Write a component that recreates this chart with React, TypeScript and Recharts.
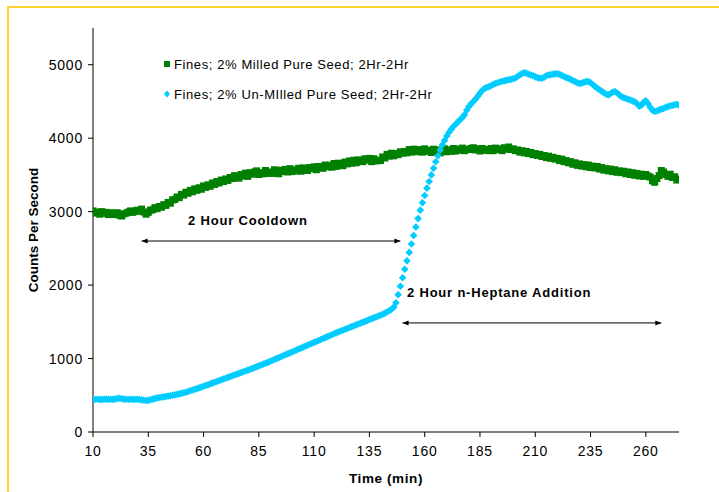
import React from 'react';
import {
  ScatterChart,
  Scatter,
  XAxis,
  YAxis,
  Legend,
  ReferenceLine,
  ReferenceDot,
} from 'recharts';

// one reading per minute, starting at t = 10 min
const START_MIN = 10;

const milledCps = [
  3010, 2980, 2995, 2965, 3000, 2975, 2990, 2960, 2985, 2970,
  2960, 2985, 2950, 2940, 2970, 2980, 2995, 3010, 2990, 3005,
  3020, 3005, 3035, 2995, 2965, 2990, 3020, 3025, 3055, 3040,
  3070, 3060, 3095, 3085, 3125, 3115, 3160, 3165, 3200, 3190,
  3235, 3225, 3265, 3250, 3290, 3270, 3310, 3290, 3325, 3305,
  3350, 3330, 3365, 3345, 3390, 3370, 3410, 3390, 3430, 3410,
  3445, 3425, 3465, 3450, 3490, 3465, 3455, 3505, 3485, 3525,
  3480, 3530, 3510, 3540, 3555, 3505, 3530, 3515, 3560, 3520,
  3540, 3520, 3570, 3530, 3515, 3565, 3545, 3575, 3540, 3585,
  3545, 3570, 3555, 3590, 3550, 3595, 3575, 3560, 3600, 3585,
  3610, 3570, 3615, 3600, 3590, 3635, 3610, 3630, 3605, 3655,
  3615, 3660, 3640, 3625, 3675, 3650, 3690, 3660, 3700, 3665,
  3705, 3685, 3680, 3720, 3700, 3725, 3680, 3720, 3690, 3700,
  3695, 3745, 3730, 3780, 3755, 3795, 3760, 3790, 3775, 3815,
  3795, 3820, 3800, 3845, 3810, 3850, 3830, 3815, 3845, 3810,
  3855, 3820, 3835, 3805, 3850, 3820, 3840, 3800, 3835, 3855,
  3815, 3840, 3820, 3860, 3825, 3850, 3835, 3865, 3830, 3850,
  3845, 3860, 3870, 3840, 3855, 3825, 3860, 3835, 3845, 3830,
  3860, 3830, 3865, 3845, 3855, 3830, 3870, 3850, 3880, 3845,
  3855, 3830, 3840, 3810, 3830, 3800, 3820, 3790, 3805, 3775,
  3790, 3765, 3780, 3750, 3765, 3735, 3755, 3725, 3740, 3715,
  3725, 3695, 3715, 3680, 3695, 3665, 3680, 3645, 3665, 3630,
  3650, 3620, 3640, 3610, 3635, 3600, 3620, 3595, 3615, 3580,
  3600, 3565, 3585, 3555, 3580, 3545, 3570, 3535, 3555, 3530,
  3550, 3515, 3540, 3505, 3530, 3495, 3520, 3485, 3510, 3480,
  3505, 3485, 3470, 3420, 3400, 3450, 3490, 3560, 3540, 3505,
  3480, 3510, 3465, 3475, 3430, 3445,
];

const unmilledCps = [
  445, 442, 446, 444, 441, 445, 447, 443, 446, 444,
  448, 455, 460, 452, 447, 445, 443, 446, 444, 442,
  445, 441, 438, 432, 428, 431, 440, 448, 455, 464,
  470, 474, 479, 484, 489, 494, 500, 506, 512, 519,
  526, 534, 542, 551, 561, 571, 581, 591, 601, 611,
  622, 633, 644, 655, 666, 677, 688, 699, 710, 721,
  732, 743, 754, 765, 776, 787, 798, 809, 820, 831,
  842, 853, 864, 876, 888, 900, 912, 924, 936, 948,
  960, 973, 986, 999, 1012, 1025, 1038, 1051, 1064, 1077,
  1090, 1103, 1116, 1129, 1142, 1155, 1168, 1181, 1194, 1207,
  1220, 1233, 1246, 1259, 1272, 1285, 1298, 1311, 1324, 1337,
  1350, 1362, 1374, 1386, 1398, 1410, 1422, 1434, 1446, 1458,
  1470, 1482, 1494, 1506, 1518, 1530, 1542, 1554, 1566, 1578,
  1590, 1604, 1618, 1634, 1652, 1672, 1700, 1760, 1870, 1985,
  2100, 2215, 2330, 2445, 2560, 2675, 2790, 2905, 3020, 3120,
  3220, 3320, 3410, 3500, 3590, 3680, 3760, 3840, 3910, 3970,
  4030, 4080, 4120, 4160, 4190, 4220, 4250, 4280, 4320, 4380,
  4430, 4470, 4500, 4530, 4570, 4610, 4650, 4675, 4690, 4700,
  4715, 4730, 4745, 4755, 4765, 4775, 4780, 4790, 4795, 4800,
  4810, 4820, 4840, 4860, 4880, 4890, 4885, 4870, 4860, 4850,
  4835, 4825, 4815, 4815, 4830, 4850, 4860, 4865, 4870, 4875,
  4878, 4870, 4855, 4840, 4825, 4815, 4800, 4785, 4770, 4755,
  4745, 4750, 4760, 4770, 4772, 4755, 4730, 4705, 4680, 4660,
  4640, 4620, 4600, 4590, 4605, 4625, 4635, 4615, 4590, 4565,
  4550, 4540, 4530, 4520, 4505, 4495, 4470, 4435, 4450, 4490,
  4510, 4470, 4420, 4380, 4365, 4370, 4385, 4395, 4405, 4420,
  4430, 4440, 4445, 4455, 4460, 4450,
];

const xTicks = [10, 35, 60, 85, 110, 135, 160, 185, 210, 235, 260];
const yTicks = [0, 1000, 2000, 3000, 4000, 5000];

// phase arrows: [from min, to min, at cps], label anchor [min, cps]
const phases = [
  { name: '2 Hour Cooldown', from: 32, to: 149, y: 2600, labelX: 53, labelY: 2875 },
  { name: '2 Hour n-Heptane Addition', from: 150, to: 267, y: 1485, labelX: 152, labelY: 1895 },
];

const GREEN = '#008000';
const BLUE = '#00CCFF';
const FONT = 'Arial, "Liberation Sans", sans-serif';

const toPoints = (vals: number[]) => vals.map((v, i) => ({ t: START_MIN + i, v }));
const milledData = toPoints(milledCps);
const unmilledData = toPoints(unmilledCps);

const SquareDot = (p: any) => (
  <rect x={p.cx - 3.5} y={p.cy - 3.5} width={7} height={7} fill={GREEN} />
);

const DiamondDot = (p: any) => (
  <polygon
    points={`${p.cx},${p.cy - 3.8} ${p.cx + 3.8},${p.cy} ${p.cx},${p.cy + 3.8} ${p.cx - 3.8},${p.cy}`}
    fill={BLUE}
  />
);

const ArrowLine = (p: any) => {
  const { x1, y1, x2, y2 } = p;
  return (
    <g>
      <line x1={x1} y1={y1} x2={x2} y2={y2} stroke="#000" strokeWidth={1} />
      <polygon points={`${x1},${y1} ${x1 + 6},${y1 - 2.5} ${x1 + 6},${y1 + 2.5}`} fill="#000" />
      <polygon points={`${x2},${y2} ${x2 - 6},${y2 - 2.5} ${x2 - 6},${y2 + 2.5}`} fill="#000" />
    </g>
  );
};

const legendItems = [
  { label: 'Fines; 2% Milled Pure Seed; 2Hr-2Hr', color: GREEN, kind: 'square' },
  { label: 'Fines; 2% Un-MIlled Pure Seed; 2Hr-2Hr', color: BLUE, kind: 'diamond' },
];

const renderLegend = () => (
  <div style={{ fontFamily: FONT, fontSize: 13, letterSpacing: 0.6, color: '#000' }}>
    {legendItems.map((it) => (
      <div key={it.label} style={{ display: 'flex', alignItems: 'center', height: 30 }}>
        <svg width={11} height={10}>
          {it.kind === 'square' ? (
            <rect x={1} y={2} width={6} height={6} fill={it.color} />
          ) : (
            <polygon points="4,1.5 7,5 4,8.5 1,5" fill={it.color} />
          )}
        </svg>
        <span>{it.label}</span>
      </div>
    ))}
  </div>
);

export default function App() {
  return (
    <div
      style={{
        position: 'relative',
        width: 719,
        height: 492,
        overflow: 'hidden',
        background: '#fff',
        fontFamily: FONT,
      }}
    >
      <style>{'body{margin:0;overflow:hidden}'}</style>
      <div
        style={{
          position: 'absolute',
          left: 7,
          top: 6,
          width: 800,
          height: 600,
          borderLeft: '2px solid #FFD42F',
          borderTop: '2px solid #FFD42F',
        }}
      />
      <div style={{ position: 'absolute', left: 0, top: 0 }}>
        <ScatterChart width={719} height={492} margin={{ top: 28, right: 40, bottom: 30, left: 33 }}>
          <XAxis
            dataKey="t"
            type="number"
            domain={[10, 275]}
            ticks={xTicks}
            allowDataOverflow
            height={30}
            tickSize={5}
            tickMargin={9}
            stroke="#000"
            tick={{ fontSize: 14, fill: '#000', letterSpacing: 0.8, fontFamily: FONT }}
          />
          <YAxis
            dataKey="v"
            type="number"
            domain={[0, 5500]}
            ticks={yTicks}
            allowDataOverflow
            width={60}
            tickSize={5}
            tickMargin={5}
            stroke="#000"
            tick={{ fontSize: 14, fill: '#000', letterSpacing: 0.8, fontFamily: FONT }}
          />
          <Legend
            layout="vertical"
            align="center"
            verticalAlign="middle"
            content={renderLegend}
            wrapperStyle={{ left: 163, top: 49, width: 320 }}
          />
          <Scatter
            name="Fines; 2% Milled Pure Seed; 2Hr-2Hr"
            data={milledData}
            shape={SquareDot}
            isAnimationActive={false}
          />
          <Scatter
            name="Fines; 2% Un-MIlled Pure Seed; 2Hr-2Hr"
            data={unmilledData}
            shape={DiamondDot}
            isAnimationActive={false}
          />
          {phases.map((ph) => (
            <ReferenceLine
              key={ph.name + '-arrow'}
              segment={[
                { x: ph.from, y: ph.y },
                { x: ph.to, y: ph.y },
              ]}
              shape={ArrowLine}
            />
          ))}
          {phases.map((ph) => (
            <ReferenceDot
              key={ph.name + '-label'}
              x={ph.labelX}
              y={ph.labelY}
              r={0}
              fill="none"
              stroke="none"
              label={{
                content: (lp: any) => (
                  <text
                    x={lp.viewBox.x}
                    y={lp.viewBox.y}
                    dominantBaseline="central"
                    fontFamily={FONT}
                    fontSize={13}
                    fontWeight="bold"
                    letterSpacing={0.8}
                    fill="#000"
                  >
                    {ph.name}
                  </text>
                ),
              }}
            />
          ))}
        </ScatterChart>
      </div>
      <div
        style={{
          position: 'absolute',
          left: 33,
          top: 230,
          transform: 'translate(-50%, -50%) rotate(-90deg)',
          whiteSpace: 'nowrap',
          fontSize: 13.5,
          fontWeight: 'bold',
          color: '#000',
        }}
      >
        Counts Per Second
      </div>
      <div
        style={{
          position: 'absolute',
          left: 386,
          top: 478,
          transform: 'translate(-50%, -50%)',
          whiteSpace: 'nowrap',
          fontSize: 13.5,
          fontWeight: 'bold',
          letterSpacing: 0.6,
          color: '#000',
        }}
      >
        Time (min)
      </div>
    </div>
  );
}
